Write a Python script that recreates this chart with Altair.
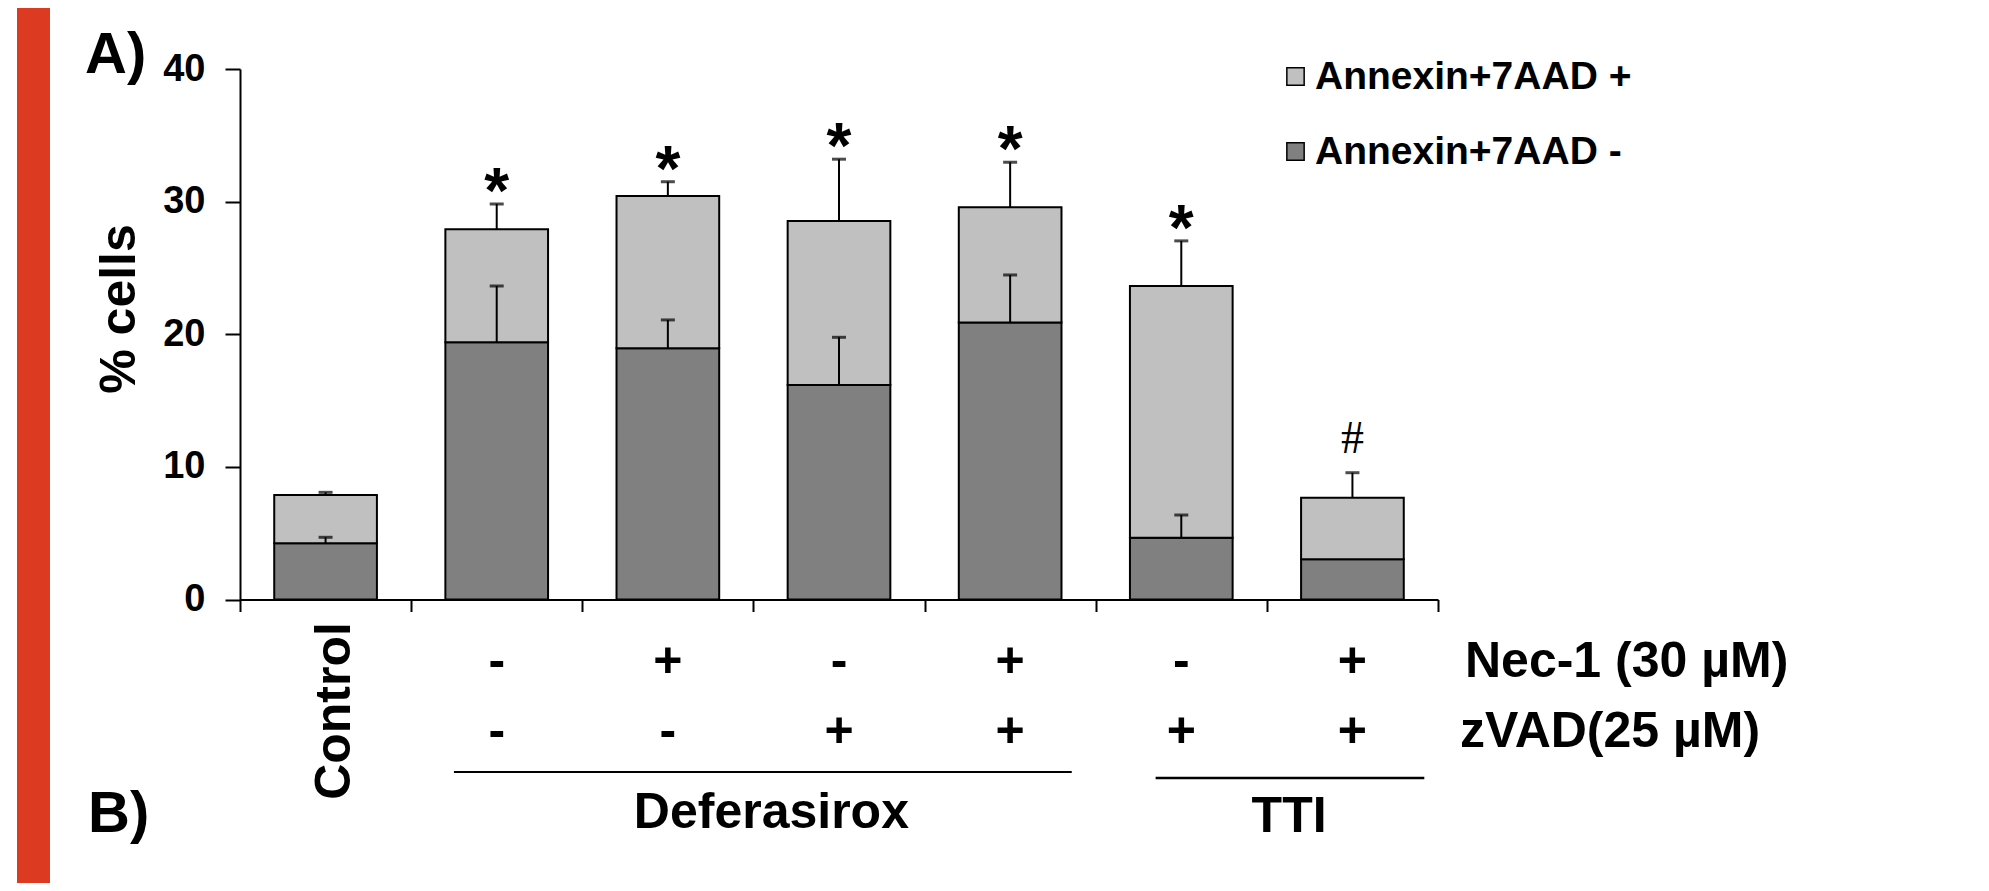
import altair as alt
import pandas as pd

# ---------------- data ----------------
categories = ["Control", "Deferasirox", "Deferasirox + Nec-1", "Deferasirox + zVAD",
              "Deferasirox + Nec-1 + zVAD", "TTI + zVAD", "TTI + Nec-1 + zVAD"]
nec1_row = ["", "-", "+", "-", "+", "-", "+"]
zvad_row = ["", "-", "-", "+", "+", "+", "+"]
# dark segment: Annexin+7AAD -  (bottom)
annexin_neg = [4.24, 19.40, 18.94, 16.18, 20.88, 4.66, 3.03]
annexin_neg_err = [0.45, 4.24, 2.14, 3.59, 3.59, 1.71, 0.0]
# light segment: Annexin+7AAD +  (stacked on top)
annexin_pos = [3.64, 8.52, 11.49, 12.36, 8.70, 18.98, 4.65]
annexin_pos_err = [0.20, 1.91, 1.07, 4.66, 3.39, 3.40, 1.88]
significance = ["", "*", "*", "*", "*", "*", "#"]
y_ticks = [0, 10, 20, 30, 40]

POS = "Annexin+7AAD +"
NEG = "Annexin+7AAD -"
FONT = "Liberation Sans"

# ---------------- tables ----------------
rows = []
for i, c in enumerate(categories):
    xc = i + 0.5
    neg, pos = annexin_neg[i], annexin_pos[i]
    rows.append(dict(cat=c, series=NEG, xc=xc, xl=xc - 0.3, xr=xc + 0.3,
                     y0=0.0, y1=neg, err=annexin_neg_err[i], etop=neg + annexin_neg_err[i]))
    rows.append(dict(cat=c, series=POS, xc=xc, xl=xc - 0.3, xr=xc + 0.3,
                     y0=neg, y1=neg + pos, err=annexin_pos_err[i],
                     etop=neg + pos + annexin_pos_err[i]))
bars = pd.DataFrame(rows)

sig = pd.DataFrame({
    "xc": [i + 0.5 for i in range(len(categories))],
    "top": [annexin_neg[i] + annexin_pos[i] + annexin_pos_err[i] for i in range(len(categories))],
    "mark": significance,
})

signs = pd.DataFrame({
    "xc": [i + 0.5 for i in range(1, len(categories))],
    "nec": nec1_row[1:],
    "zvad": zvad_row[1:],
})

groups = pd.DataFrame({
    "name": ["Deferasirox", "TTI"],
    "start": [1.25, 5.35],
    "end": [4.86, 6.92],
    "mid": [3.105, 6.13],
})

# ---------------- scales / axes ----------------
xs = alt.Scale(domain=[0, 7], nice=False, zero=False)
ys = alt.Scale(domain=[0, 40], nice=False, zero=True)
x_axis = alt.Axis(values=list(range(8)), labels=False, tickSize=12, tickWidth=2,
                  tickColor="black", domainColor="black", domainWidth=2,
                  grid=False, title=None)
y_axis = alt.Axis(values=y_ticks, tickSize=15, tickWidth=2, tickColor="black",
                  domainColor="black", domainWidth=2, grid=False, title=None,
                  labelFont=FONT, labelFontSize=38, labelFontWeight="bold",
                  labelColor="black", labelPadding=20, format="d")

color = alt.Color("series:N",
                  scale=alt.Scale(domain=[POS, NEG], range=["#C0C0C0", "#808080"]),
                  legend=alt.Legend(orient="none", legendX=1036, legendY=-12,
                                    title=None, symbolType="square", symbolSize=300,
                                    symbolStrokeColor="black", symbolStrokeWidth=1.5,
                                    labelFont=FONT, labelFontSize=39,
                                    labelFontWeight="bold", labelColor="black",
                                    labelLimit=1000, labelOffset=0, rowPadding=35,
                                    padding=0))

bar_layer = alt.Chart(bars).mark_bar(stroke="black", strokeWidth=2).encode(
    x=alt.X("xl:Q", scale=xs, axis=x_axis),
    x2="xr:Q",
    y=alt.Y("y0:Q", scale=ys, axis=y_axis),
    y2="y1:Q",
    color=color,
)

err_rule = alt.Chart(bars).transform_filter("datum.err > 0").mark_rule(
    color="black", strokeWidth=2).encode(
    x=alt.X("xc:Q", scale=xs, axis=x_axis),
    y=alt.Y("y1:Q", scale=ys, axis=y_axis),
    y2="etop:Q",
)
err_cap = alt.Chart(bars).transform_filter("datum.err > 0").mark_tick(
    color="black", orient="horizontal", size=14, thickness=3).encode(
    x=alt.X("xc:Q", scale=xs, axis=x_axis),
    y=alt.Y("etop:Q", scale=ys, axis=y_axis),
)

star = alt.Chart(sig).transform_filter("datum.mark == '*'").mark_text(
    font=FONT, fontWeight="bold", fontSize=64, color="black",
    align="center", baseline="alphabetic", dy=9).encode(
    x=alt.X("xc:Q", scale=xs, axis=x_axis),
    y=alt.Y("top:Q", scale=ys, axis=y_axis),
    text="mark:N",
)
hashm = alt.Chart(sig).transform_filter("datum.mark == '#'").mark_text(
    font="Liberation Serif", fontSize=46, color="black",
    align="center", baseline="alphabetic", dy=-20).encode(
    x=alt.X("xc:Q", scale=xs, axis=x_axis),
    y=alt.Y("top:Q", scale=ys, axis=y_axis),
    text="mark:N",
)

sign_style = dict(font=FONT, fontWeight="bold", fontSize=50, color="black",
                  align="center", baseline="alphabetic")
nec_signs = alt.Chart(signs).mark_text(**sign_style).encode(
    x=alt.X("xc:Q", scale=xs, axis=x_axis), y=alt.value(608), text="nec:N")
zvad_signs = alt.Chart(signs).mark_text(**sign_style).encode(
    x=alt.X("xc:Q", scale=xs, axis=x_axis), y=alt.value(678), text="zvad:N")

control_lbl = alt.Chart(pd.DataFrame({"xc": [0.5], "t": [categories[0]]})).mark_text(
    font=FONT, fontWeight="bold", fontSize=50, color="black", angle=270,
    align="center", baseline="alphabetic", dy=24).encode(
    x=alt.X("xc:Q", scale=xs, axis=x_axis), y=alt.value(642), text="t:N")

def_line = alt.Chart(groups.iloc[[0]]).mark_rule(color="black", strokeWidth=2).encode(
    x=alt.X("start:Q", scale=xs, axis=x_axis), x2="end:Q", y=alt.value(703))
tti_line = alt.Chart(groups.iloc[[1]]).mark_rule(color="black", strokeWidth=2.5).encode(
    x=alt.X("start:Q", scale=xs, axis=x_axis), x2="end:Q", y=alt.value(709))
def_lbl = alt.Chart(groups.iloc[[0]]).mark_text(**sign_style).encode(
    x=alt.X("mid:Q", scale=xs, axis=x_axis), y=alt.value(759), text="name:N")
tti_lbl = alt.Chart(groups.iloc[[1]]).mark_text(**sign_style).encode(
    x=alt.X("mid:Q", scale=xs, axis=x_axis), y=alt.value(763), text="name:N")

def free_text(txt, x, y, size=50, angle=None, align="left", font=FONT, weight="bold"):
    kw = dict(font=font, fontWeight=weight, fontSize=size, color="black",
              align=align, baseline="alphabetic")
    if angle is not None:
        kw["angle"] = angle
    return alt.Chart(pd.DataFrame({"t": [txt]})).mark_text(**kw).encode(
        x=alt.value(x), y=alt.value(y), text="t:N")

nec_title = free_text("Nec-1 (30 µM)", 1225, 608)
zvad_title = free_text("zVAD(25 µM)", 1220, 678)
y_title = free_text("% cells", -105, 240, angle=270, align="center")
panel_a = free_text("A)", -155, 4, size=58)
panel_b = free_text("B)", -152, 763, size=58)

red_bar = alt.Chart(pd.DataFrame({"k": [0]})).mark_rect(color="#DD3B21").encode(
    x=alt.value(-223), x2=alt.value(-190), y=alt.value(-61), y2=alt.value(814))

chart = alt.layer(
    red_bar, bar_layer, err_rule, err_cap, star, hashm,
    nec_signs, zvad_signs, control_lbl, def_line, tti_line, def_lbl, tti_lbl,
    nec_title, zvad_title, y_title, panel_a, panel_b,
).properties(
    width=1198, height=530.5,
    autosize=alt.AutoSizeParams(type="none"),
    padding={"left": 232, "top": 61, "right": 543, "bottom": 283.5},
    background="white",
).configure_view(stroke=None)

chart.save("out.html", embed_options={"renderer": "svg", "actions": False})
